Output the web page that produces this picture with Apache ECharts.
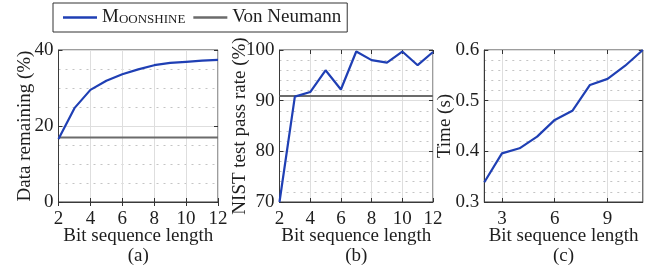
<!DOCTYPE html>
<html>
<head>
<meta charset="utf-8">
<script src="https://cdn.jsdelivr.net/npm/echarts@6/dist/echarts.min.js"></script>
<style>
  html, body { margin: 0; padding: 0; background: #fff; }
  #main { width: 652px; height: 269px; }
</style>
</head>
<body>
<div id="main"></div>
<script>
// bit sequence lengths
const bitsAB = [2, 3, 4, 5, 6, 7, 8, 9, 10, 11, 12];
const bitsC = [2, 3, 4, 5, 6, 7, 8, 9, 10, 11];

// (a) data remaining (%)
const moonRemaining = [16.6, 24.7, 29.5, 31.9, 33.6, 34.9, 36.0, 36.6, 36.9, 37.2, 37.4];
const vnRemaining = [17.0, 17.0, 17.0, 17.0, 17.0, 17.0, 17.0, 17.0, 17.0, 17.0, 17.0];

// (b) NIST test pass rate (%)
const moonNist = [70.0, 90.8, 91.7, 96.0, 92.2, 99.7, 98.0, 97.5, 99.7, 97.0, 99.6];
const vnNist = [90.9, 90.9, 90.9, 90.9, 90.9, 90.9, 90.9, 90.9, 90.9, 90.9, 90.9];

// (c) time (s)
const moonTime = [0.339, 0.396, 0.406, 0.429, 0.462, 0.480, 0.531, 0.543, 0.569, 0.600];

const names = ['Moonshine', 'Von Neumann'];
const subLabels = ['(a)', '(b)', '(c)'];

const blue = '#1f3fb4';
const gray = '#6b6b6b';
const font = '"Liberation Serif", "DejaVu Serif", serif';
const txt = '#1e1e1e';

const pairs = (xs, ys) => xs.map((x, i) => [x, ys[i]]);

let chart = echarts.init(document.getElementById('main'));

const gridLine = { show: true, lineStyle: { color: '#dedede', width: 1 } };
const minorLine = { show: true, lineStyle: { color: '#c4c4c4', width: 1, type: [2, 5] } };
const tick = { show: true, inside: true, length: 4, lineStyle: { color: '#333' } };
const axLine = { show: true, lineStyle: { color: '#3a3a3a', width: 1 } };
const label = { color: txt, fontFamily: font, fontSize: 19, margin: 8 };
const nameStyle = { color: txt, fontFamily: font, fontSize: 19, lineHeight: 20 };

function mainX(gi, min, max, interval, sub) {
    return {
        gridIndex: gi, type: 'value', min: min, max: max, interval: interval,
        name: 'Bit sequence length\n' + sub, nameLocation: 'middle', nameGap: 24,
        nameMoveOverlap: false,
        nameTextStyle: nameStyle,
        axisLine: axLine, axisTick: tick, axisLabel: label, splitLine: gridLine
    };
}
function mainY(gi, min, max, interval, minorN, name, gap) {
    return {
        gridIndex: gi, type: 'value', min: min, max: max, interval: interval,
        name: name, nameLocation: 'middle', nameGap: gap, nameRotate: 90,
        nameMoveOverlap: false,
        nameTextStyle: { color: txt, fontFamily: font, fontSize: 19 },
        axisLine: axLine, axisTick: tick, axisLabel: Object.assign({}, label, { margin: 5 }),
        splitLine: gridLine,
        minorTick: { show: false, splitNumber: minorN },
        minorSplitLine: minorLine
    };
}
function frameX(gi, base) {
    return Object.assign({}, base, {
        position: 'top', name: '', axisLabel: { show: false },
        splitLine: { show: false }, axisLine: { show: false }, minorSplitLine: { show: false }
    });
}
function frameY(gi, base) {
    return Object.assign({}, base, {
        position: 'right', name: '', axisLabel: { show: false },
        splitLine: { show: false }, axisLine: { show: false }, minorSplitLine: { show: false }
    });
}

const xA = mainX(0, 2, 12, 2, subLabels[0]);
const xB = mainX(1, 2, 12, 2, subLabels[1]);
const catInt = (i) => (bitsC[i] % 3 === 0);
const xC = {
    gridIndex: 2, type: 'category', data: bitsC.map(String), boundaryGap: false,
    name: 'Bit sequence length\n' + subLabels[2], nameLocation: 'middle', nameGap: 24,
    nameMoveOverlap: false,
    nameTextStyle: nameStyle,
    axisLine: axLine,
    axisTick: Object.assign({}, tick, { interval: catInt }),
    axisLabel: Object.assign({}, label, { interval: catInt }),
    splitLine: Object.assign({}, gridLine, { interval: catInt })
};
const yA = mainY(0, 0, 40, 20, 4, 'Data remaining (%)', 24);
const yB = mainY(1, 70, 100, 10, 5, 'NIST test pass rate (%)', 30);
const yC = mainY(2, 0.3, 0.6, 0.1, 5, 'Time (s)', 30);
yC.axisLabel = Object.assign({}, yC.axisLabel, { formatter: (v) => v.toFixed(1) });

const gridStyle = {
    show: true, borderColor: '#3a3a3a', borderWidth: 1, backgroundColor: 'transparent',
    containLabel: false, outerBoundsMode: 'none'
};

let option = {
    animation: false,
    textStyle: { fontFamily: font },
    legend: {
        data: names,
        left: 53, top: 3,
        padding: [5, 6, 5, 10],
        itemGap: 8, itemWidth: 34, itemHeight: 2.5,
        icon: 'rect',
        borderColor: '#333', borderWidth: 1,
        textStyle: {
            color: txt, fontFamily: font, fontSize: 19,
            rich: {
                big: { fontSize: 19, fontFamily: font, color: txt, verticalAlign: 'bottom' },
                small: { fontSize: 13, fontFamily: font, color: txt, verticalAlign: 'bottom', padding: [0, 0, 1, 0] }
            }
        },
        formatter: (n) => n === 'Moonshine' ? '{big|M}{small|OONSHINE}' : n
    },
    grid: [
        Object.assign({ left: 58.5, top: 50, width: 159.5, height: 152 }, gridStyle),
        Object.assign({ left: 279.5, top: 50, width: 153.5, height: 152 }, gridStyle),
        Object.assign({ left: 484.3, top: 50, width: 158.5, height: 152 }, gridStyle)
    ],
    xAxis: [xA, xB, xC, frameX(0, xA), frameX(1, xB), frameX(2, xC)],
    yAxis: [yA, yB, yC, frameY(0, yA), frameY(1, yB), frameY(2, yC)],
    series: [
        { name: names[1], type: 'line', xAxisIndex: 0, yAxisIndex: 0, data: pairs(bitsAB, vnRemaining),
          showSymbol: false, symbol: 'none', lineStyle: { color: gray, width: 2 }, itemStyle: { color: gray } },
        { name: names[0], type: 'line', xAxisIndex: 0, yAxisIndex: 0, data: pairs(bitsAB, moonRemaining),
          showSymbol: false, symbol: 'none', lineStyle: { color: blue, width: 2.2 }, itemStyle: { color: blue } },
        { name: names[1], type: 'line', xAxisIndex: 1, yAxisIndex: 1, data: pairs(bitsAB, vnNist),
          showSymbol: false, symbol: 'none', lineStyle: { color: gray, width: 2 }, itemStyle: { color: gray } },
        { name: names[0], type: 'line', xAxisIndex: 1, yAxisIndex: 1, data: pairs(bitsAB, moonNist),
          showSymbol: false, symbol: 'none', lineStyle: { color: blue, width: 2.2 }, itemStyle: { color: blue } },
        { name: names[0], type: 'line', xAxisIndex: 2, yAxisIndex: 2, data: moonTime,
          showSymbol: false, symbol: 'none', lineStyle: { color: blue, width: 2.2 }, itemStyle: { color: blue } }
    ]
};
chart.setOption(option);
</script>
</body>
</html>
